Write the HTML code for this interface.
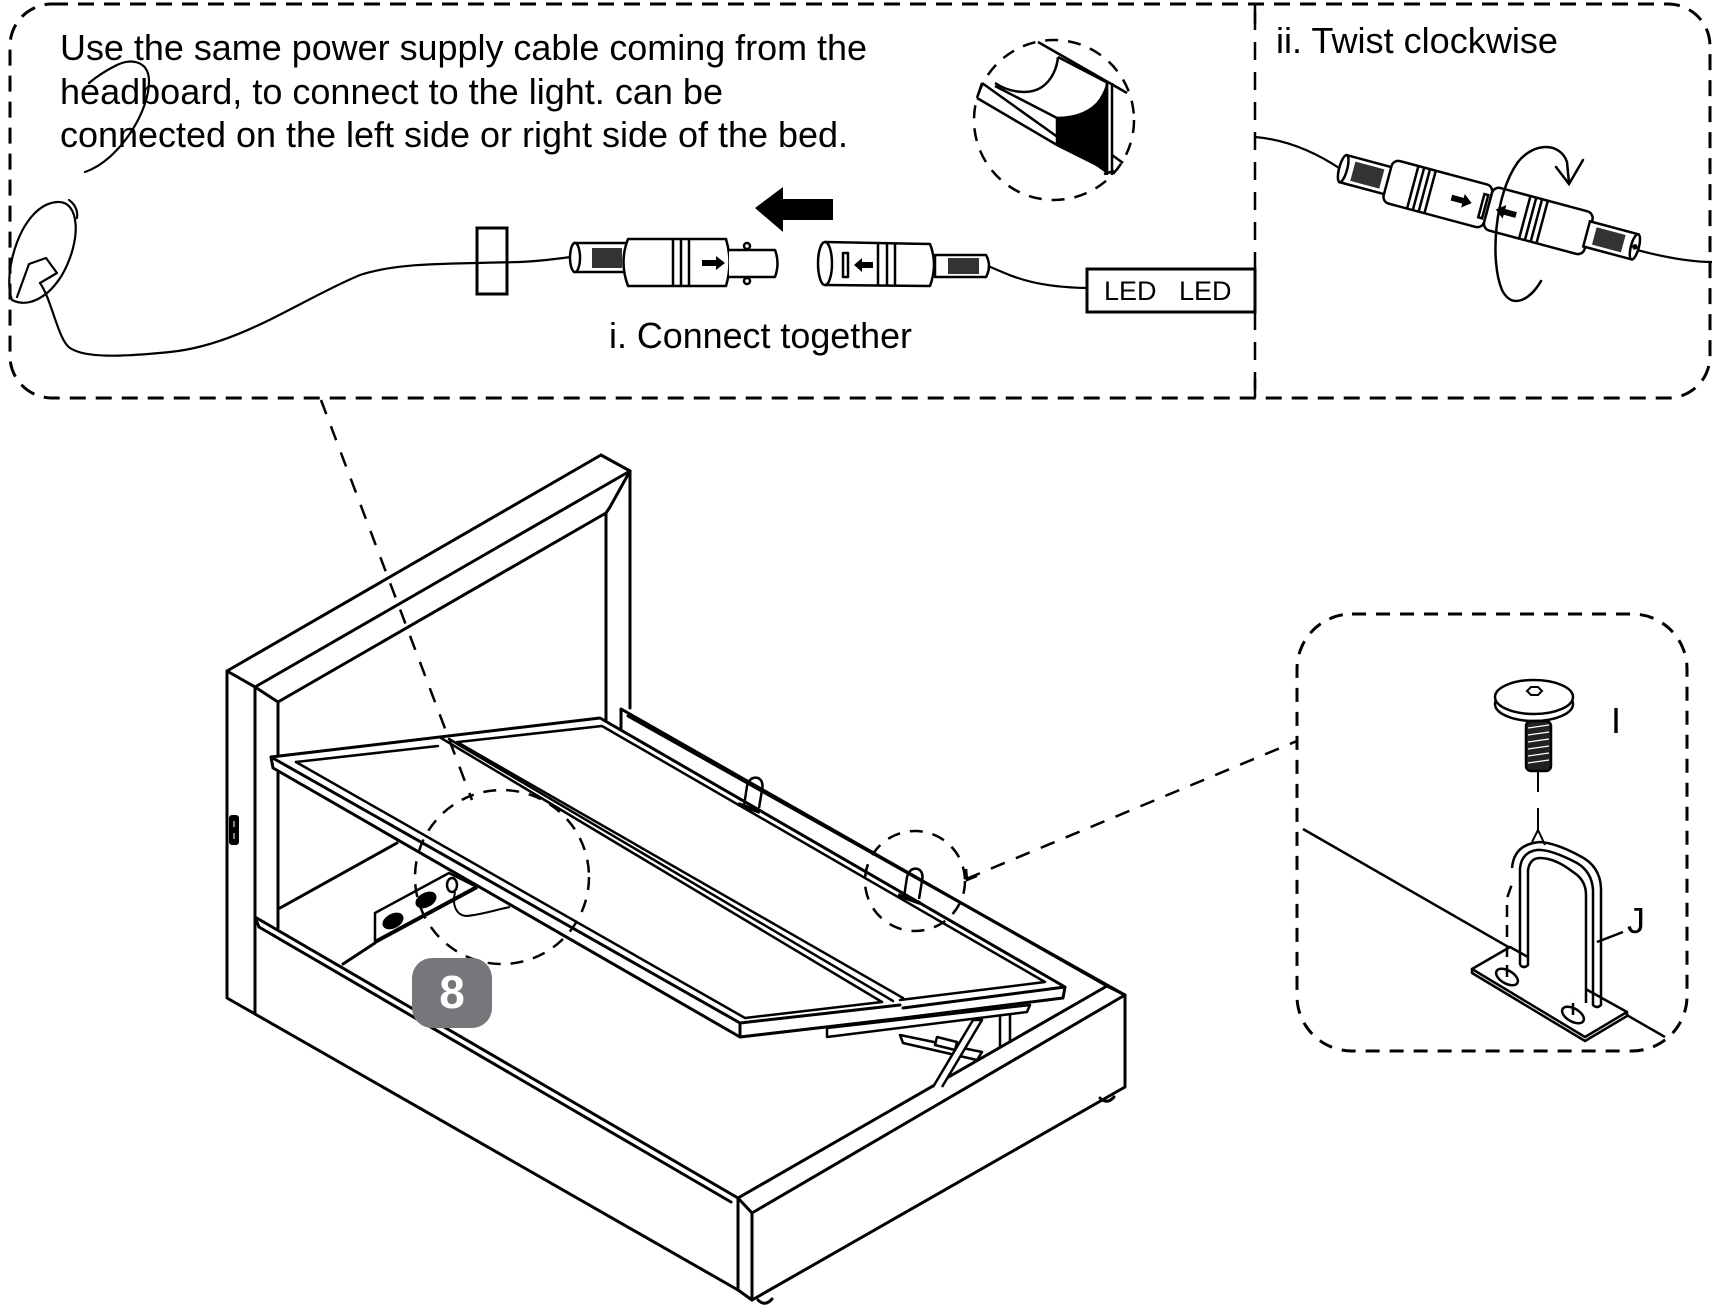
<!DOCTYPE html>
<html><head><meta charset="utf-8">
<style>
html,body{margin:0;padding:0;background:#fff;}
svg{display:block;}
text{font-family:"Liberation Sans",Arial,sans-serif;fill:#000;}
</style></head><body>
<svg width="1717" height="1305" viewBox="0 0 1717 1305" xmlns="http://www.w3.org/2000/svg">
<rect width="1717" height="1305" fill="#fff"/>

<!-- ================= TOP BOX ================= -->
<g fill="none" stroke="#000">
  <rect x="10" y="4" width="1700" height="394" rx="42" stroke-width="3" stroke-dasharray="16 10"/>
  <line x1="1255" y1="12" x2="1255" y2="392" stroke-width="2.5" stroke-dasharray="18 12"/>
  <line x1="1255" y1="4" x2="1255" y2="24" stroke-width="2.5"/>
  <line x1="1255" y1="378" x2="1255" y2="398" stroke-width="2.5"/>
</g>

<text x="60" y="60" font-size="36" textLength="807" lengthAdjust="spacingAndGlyphs">Use the same power supply cable coming from the</text>
<text x="60" y="104" font-size="36" textLength="663" lengthAdjust="spacingAndGlyphs">headboard, to connect to the light. can be</text>
<text x="60" y="147" font-size="36" textLength="788" lengthAdjust="spacingAndGlyphs">connected on the left side or right side of the bed.</text>
<text x="609" y="348" font-size="36" textLength="303" lengthAdjust="spacingAndGlyphs">i. Connect together</text>
<text x="1276" y="53" font-size="36" textLength="282" lengthAdjust="spacingAndGlyphs">ii. Twist clockwise</text>

<!-- left cable & plug -->
<g fill="none" stroke="#000" stroke-width="2.2" stroke-linecap="round" stroke-linejoin="round">
  <path d="M85,172 C120,160 150,110 149,80 C148,60 130,58 115,66 C105,71 95,78 89,83"/>
  <path d="M12,300 C2,275 20,205 57,202 C80,200 82,240 62,275 C48,298 28,308 12,300"/>
  <path d="M69,200 C76,205 78,212 77,218"/>
  <path d="M17,297 L29,264 L46,258 L57,273 L40,283"/>
  <path d="M40,283 C52,300 58,340 70,348 C85,358 120,357 170,352 C240,345 300,300 360,275 C400,262 450,264 520,262 C545,261 560,258 572,257"/>
</g>
<rect x="477" y="228" width="30" height="66" fill="none" stroke="#000" stroke-width="3"/>

<!-- connector 1 -->
<g stroke="#000" stroke-width="2.5" stroke-linejoin="round">
  <rect x="574" y="243" width="55" height="29" fill="#fff"/>
  <ellipse cx="575" cy="257.5" rx="5" ry="14.5" fill="#fff"/>
  <rect x="592" y="248" width="30" height="20" fill="#333" stroke="none"/>
  <path d="M628,239 L726,239 Q733,262 726,286 L628,286 Q619,262 628,239 Z" fill="#fff"/>
  <line x1="673" y1="240" x2="673" y2="285"/>
  <line x1="681" y1="240" x2="681" y2="285"/>
  <line x1="689" y1="240" x2="689" y2="285"/>
  <path d="M729,250 L775,250 Q780,263 775,277 L729,277" fill="#fff"/>
  <circle cx="747" cy="246" r="3" fill="#fff"/>
  <circle cx="747" cy="281" r="3" fill="#fff"/>
</g>
<polygon points="702,260 716,260 716,256 725,263 716,270 716,266 702,266" fill="#000"/>

<!-- big arrow -->
<polygon points="755,208 783,187 783,199 833,199 833,220 783,220 783,232" fill="#000"/>

<!-- connector 2 -->
<g stroke="#000" stroke-width="2.5" stroke-linejoin="round">
  <path d="M935,255 L986,255 Q992,266 986,277 L935,277 Z" fill="#fff"/>
  <rect x="948" y="258" width="31" height="16" fill="#333" stroke="none"/>
  <path d="M825,242 L930,244 Q938,264 930,286 L825,285" fill="#fff"/>
  <ellipse cx="825" cy="263.5" rx="7" ry="21.5" fill="#fff"/>
  <rect x="843" y="253" width="5" height="24" fill="#fff"/>
  <line x1="878" y1="243" x2="878" y2="285"/>
  <line x1="887" y1="243" x2="887" y2="285"/>
  <line x1="895" y1="244" x2="895" y2="285"/>
</g>
<polygon points="854,265 862,258 862,262 873,262 873,268 862,268 862,272" fill="#000"/>
<path d="M988,266 C1010,275 1030,287 1087,288" fill="none" stroke="#000" stroke-width="2.2"/>

<!-- LED box -->
<rect x="1087" y="269" width="168" height="43" fill="#fff" stroke="#000" stroke-width="3"/>
<text x="1104" y="300" font-size="27">LED</text>
<text x="1179" y="300" font-size="27">LED</text>

<!-- magnifier detail -->
<circle cx="1054" cy="120" r="80" fill="none" stroke="#000" stroke-width="2.5" stroke-dasharray="13 10"/>
<g fill="none" stroke="#000" stroke-width="2.5" stroke-linejoin="round">
  <path d="M1038,42 L1127,93"/>
  <path d="M1058,57 L1108,83"/>
  <path d="M982,83 L1108,173"/>
  <path d="M977,98 L1057,145"/>
  <path d="M982,83 L977,98"/>
  <path d="M995,86 L1057,118"/>
  <path d="M995,83 C1010,93 1030,95 1042,87 C1052,80 1057,68 1058,57"/>
  <path d="M1057,118 C1075,118 1092,112 1100,100 C1105,92 1107,86 1107,83 L1107,170 L1057,145 Z" fill="#000"/>
  <line x1="1107" y1="83" x2="1107" y2="175"/>
  <line x1="1112" y1="83" x2="1112" y2="175"/>
  <line x1="1112" y1="155" x2="1123" y2="163"/>
  <line x1="1104" y1="174" x2="1114" y2="171"/>
</g>

<!-- twist connector -->
<path d="M1255,137 C1290,140 1320,155 1342,170" fill="none" stroke="#000" stroke-width="2.2"/>
<path d="M1637,250 C1660,256 1690,262 1712,262" fill="none" stroke="#000" stroke-width="2.2"/>
<g transform="translate(1490,208) rotate(15)" stroke="#000" stroke-width="2.5">
  <rect x="-152" y="-14" width="50" height="28" fill="#fff"/>
  <ellipse cx="-152" cy="0" rx="4" ry="14" fill="#fff"/>
  <rect x="-142" y="-10" width="30" height="20" fill="#333" stroke="none"/>
  <rect x="-106" y="-22" width="104" height="44" rx="7" fill="#fff"/>
  <line x1="-80" y1="-22" x2="-80" y2="22"/>
  <line x1="-74" y1="-22" x2="-74" y2="22"/>
  <line x1="-68" y1="-22" x2="-68" y2="22"/>
  <line x1="-62" y1="-22" x2="-62" y2="22"/>
  <rect x="-2" y="-22" width="104" height="44" rx="7" fill="#fff"/>
  <rect x="-9" y="-12" width="4" height="24" fill="#fff"/>
  <line x1="36" y1="-22" x2="36" y2="22"/>
  <line x1="42" y1="-22" x2="42" y2="22"/>
  <line x1="48" y1="-22" x2="48" y2="22"/>
  <line x1="54" y1="-22" x2="54" y2="22"/>
  <rect x="100" y="-13" width="50" height="26" fill="#fff"/>
  <rect x="108" y="-9" width="30" height="18" fill="#333" stroke="none"/>
  <ellipse cx="150" cy="0" rx="4" ry="13" fill="#fff"/>
  <circle cx="150" cy="0" r="1.5" fill="#000"/>
  <polygon points="-40,-3 -28,-3 -28,-7 -19,0 -28,7 -28,3 -40,3" fill="#000" stroke="none"/>
  <polygon points="6,0 15,-7 15,-3 27,-3 27,3 15,3 15,7" fill="#000" stroke="none"/>
</g>
<g fill="none" stroke="#000" stroke-width="2.5" stroke-linecap="round">
  <path d="M1541,281 C1530,300 1512,310 1502,290 C1490,262 1494,195 1518,162 C1534,142 1560,142 1567,162 L1569,183"/>
  <path d="M1556,167 L1569,184 L1583,160"/>
</g>

<!-- ================= BED ================= -->
<g fill="none" stroke="#000" stroke-width="3" stroke-linejoin="round" stroke-linecap="round">
  <!-- headboard -->
  <path d="M601,455 L630,471 L610,507 L606,513 L278,702 L255,687 L227,671 L601,455"/>
  <path d="M630,471 L255,687"/>
  <path d="M227,671 V998 L255,1014 V687"/>
  <path d="M278,702 V757"/>
  <path d="M278,772 V928"/>
  <path d="M630,471 V708"/>
  <path d="M606,513 V720"/>
  <!-- far rail -->
  <path d="M621,730 V709 L1107,986"/>
  <path d="M628,716 L1125,995"/>
  <!-- footboard -->
  <path d="M1107,986 L1125,995 V1087 L752,1300 V1213 L1125,995"/>
  <path d="M1107,986 L738,1198 L752,1213"/>
  <path d="M738,1198 V1290 L752,1300"/>
  <path d="M255,1014 L738,1290"/>
  <!-- near rail -->
  <path d="M255,917 L738,1198"/>
  <path d="M259,927 L731,1202"/>
  <path d="M255,917 L259,927"/>
  <!-- interior -->
  <path d="M280,908 L397,843"/>
  <path d="M343,964 L375,943"/>
  <!-- feet -->
  <path d="M758,1300 Q765,1307 772,1299"/>
  <path d="M1100,1098 Q1107,1105 1114,1097"/>
</g>

<!-- junction box -->
<g stroke="#000" stroke-width="2.5" stroke-linejoin="round">
  <path d="M375,942 V913 L449,873 L477,887" fill="#fff"/>
  <path d="M375,942 L477,887" fill="none" stroke-width="4"/>
  <ellipse cx="393" cy="921" rx="10" ry="6" transform="rotate(-28 393 921)" fill="#000"/>
  <ellipse cx="426" cy="900" rx="10" ry="6" transform="rotate(-28 426 900)" fill="#000"/>
  <ellipse cx="452" cy="885" rx="5" ry="7" fill="none"/>
  <path d="M455,892 C452,905 456,915 466,916 C480,915 495,910 510,907" fill="none" stroke-width="2"/>
</g>

<!-- lift mechanism -->
<g fill="#fff" stroke="#000" stroke-width="2.5" stroke-linejoin="round">
  <path d="M900,1035 L982,1052 L977,1060 L903,1043 Z"/>
  <path d="M937,1037 L957,1042 L955,1050 L935,1045 Z"/>
  <path d="M933,1087 L973,1020 L982,1020 L942,1087"/>
  <path d="M1000,1015 V1047 M1010,1013 V1043" fill="none"/>
  <path d="M827,1028 L1030,1005 L1027,1012 L827,1037 Z"/>
</g>

<!-- lid -->
<g stroke="#000" stroke-width="3" stroke-linejoin="round" stroke-linecap="round">
  <path d="M271,757 L600,718 L1065,987 L1063,998 L903,1018 L740,1037 L273,768 Z" fill="#fff"/>
  <path d="M740,1023 V1037" fill="none"/>
  <path d="M271,757 L740,1023 L900,1005 M903,1008 L1065,987" fill="none"/>
  <g fill="none" stroke-width="2.5">
    <path d="M296,762 L438,746"/>
    <path d="M296,762 L745,1018 L882,1002"/>
    <path d="M441,738 L882,1002"/>
    <path d="M449,739 L893,1001"/>
    <path d="M457,742 L903,998"/>
    <path d="M458,742 L602,726 L1045,982 L900,1000"/>
  </g>
</g>

<!-- hinge brackets -->
<g fill="none" stroke="#000" stroke-width="2.5" stroke-linejoin="round">
  <path d="M744,806 L747,786 Q750,776 758,778 Q764,781 762,790 L759,808"/>
  <path d="M738,804 L760,812" stroke-width="4"/>
  <path d="M904,897 L907,877 Q910,867 918,869 Q924,872 922,881 L919,899"/>
  <path d="M898,895 L920,903" stroke-width="4"/>
</g>

<!-- socket on post -->
<rect x="229" y="815" width="10" height="30" rx="3" fill="#000"/>
<line x1="234" y1="821" x2="234" y2="827" stroke="#fff" stroke-width="1"/>
<line x1="234" y1="833" x2="234" y2="839" stroke="#fff" stroke-width="1"/>

<!-- dashed leaders & circles -->
<g fill="none" stroke="#000" stroke-width="2.5" stroke-dasharray="13 10">
  <path d="M321,400 L472,800" stroke-dasharray="15 13"/>
  <circle cx="502" cy="877" r="87"/>
  <circle cx="915" cy="881" r="50"/>
  <path d="M966,879 L1297,741" stroke-dasharray="15 12"/>
</g>
<path d="M966,869 L967,880 L977,876" fill="none" stroke="#000" stroke-width="2.5"/>

<!-- badge -->
<rect x="412" y="958" width="80" height="70" rx="20" fill="#76777b"/>
<text x="452" y="1008" font-size="46" font-weight="bold" text-anchor="middle" style="fill:#fff">8</text>

<!-- ================= RIGHT DETAIL BOX ================= -->
<rect x="1297" y="614" width="390" height="437" rx="55" fill="none" stroke="#000" stroke-width="3" stroke-dasharray="14 10"/>
<line x1="1303" y1="829" x2="1665" y2="1037" stroke="#000" stroke-width="2.5"/>
<!-- plate -->
<g stroke="#000" stroke-width="2.5" stroke-linejoin="round">
  <path d="M1472,969 L1472,973 L1585,1041 L1627,1016 L1627,1012 Z" fill="#fff"/>
  <path d="M1472,969 L1510,947 L1627,1012 L1585,1037 Z" fill="#fff"/>
  <ellipse cx="1507" cy="977" rx="12" ry="6.5" transform="rotate(30 1507 977)" fill="#fff"/>
  <ellipse cx="1573" cy="1015" rx="12" ry="6.5" transform="rotate(30 1573 1015)" fill="#fff"/>
</g>
<!-- hidden dashed lines -->
<g fill="none" stroke="#000" stroke-width="2.5" stroke-dasharray="12 8">
  <path d="M1507,977 L1507,898 L1512,884"/>
  <path d="M1573,1015 L1573,903 L1567,890 L1557,863"/>
</g>
<!-- U bolt -->
<g fill="none" stroke="#000" stroke-width="2.5" stroke-linejoin="round">
  <path d="M1520,965 L1520,868 Q1522,852 1537,850 Q1550,849 1577,863 Q1592,872 1593,890 L1593,1005 Q1597,1009 1601,1005 L1601,888 Q1600,866 1580,856 Q1556,843 1540,842 Q1514,844 1512,868"/>
  <path d="M1520,965 Q1524,969 1528,965 L1528,870 Q1530,858 1540,858 Q1555,858 1573,872 Q1586,880 1586,895 L1586,1003" fill="#fff"/>
  <path d="M1597,942 L1623,932"/>
</g>
<!-- axis -->
<g fill="none" stroke="#000" stroke-width="2">
  <path d="M1538,772 V792 M1538,808 V830 L1532,842 M1538,830 L1545,845"/>
</g>
<!-- screw -->
<g stroke="#000" stroke-width="2.5">
  <ellipse cx="1534" cy="704" rx="39" ry="17" fill="#fff"/>
  <ellipse cx="1534" cy="697" rx="39" ry="17" fill="#fff"/>
  <polygon points="1527,691 1531,687 1538,687 1542,691 1538,695 1531,695" fill="#fff" stroke-width="2"/>
  <rect x="1526" y="721" width="25" height="50" rx="5" fill="#222"/>
</g>
<g stroke="#fff" stroke-width="1.2">
  <line x1="1528" y1="728" x2="1549" y2="725"/>
  <line x1="1528" y1="735" x2="1549" y2="732"/>
  <line x1="1528" y1="742" x2="1549" y2="739"/>
  <line x1="1528" y1="749" x2="1549" y2="746"/>
  <line x1="1528" y1="756" x2="1549" y2="753"/>
  <line x1="1528" y1="763" x2="1549" y2="760"/>
</g>
<text x="1611" y="733" font-size="36">I</text>
<text x="1627" y="933" font-size="36">J</text>

</svg>
</body></html>
